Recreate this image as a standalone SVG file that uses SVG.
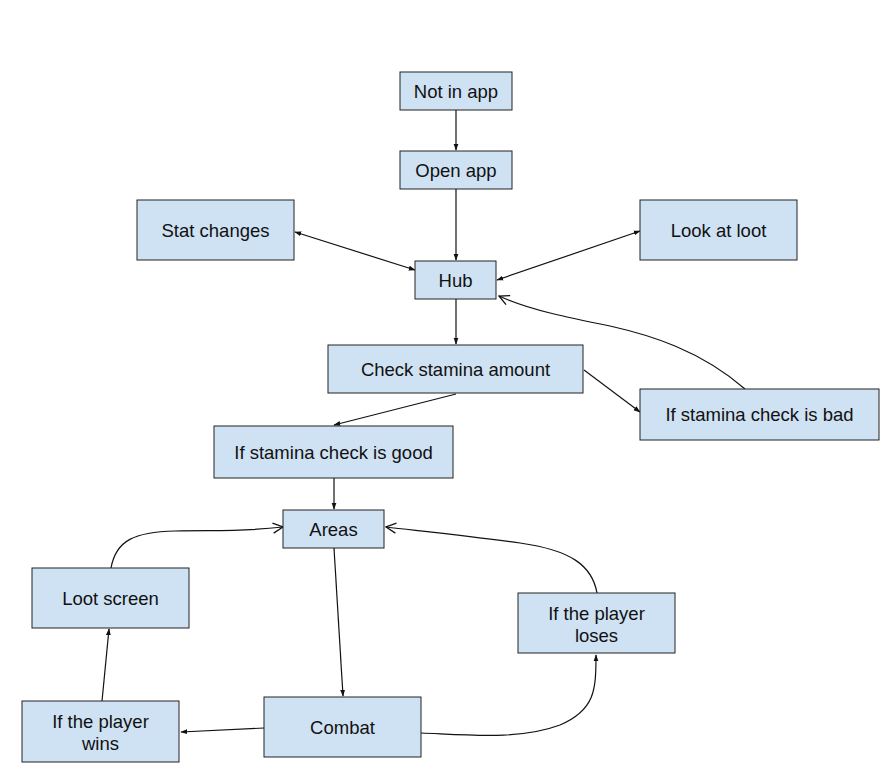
<svg xmlns="http://www.w3.org/2000/svg" width="892" height="780" viewBox="0 0 892 780">
  <defs>
    <style>
      .node rect { fill: #cfe2f3; stroke: #222; stroke-width: 1; }
      .node text { font-family: "Liberation Sans", Arial, sans-serif; font-size: 18.5px; fill: #111; text-anchor: middle; }
      .edge { fill: none; stroke: #111; stroke-width: 1.2; }
    </style>
    <marker id="arrow" viewBox="0 0 10 10" refX="9" refY="5" markerWidth="7" markerHeight="7" orient="auto-start-reverse" markerUnits="userSpaceOnUse">
      <path d="M0,1.5 L10,5 L0,8.5 z" fill="#111"/>
    </marker>
    <marker id="open" viewBox="0 0 12 12" refX="11" refY="6" markerWidth="12" markerHeight="12" orient="auto" markerUnits="userSpaceOnUse">
      <path d="M1,1 L11,6 L1,11" fill="none" stroke="#111" stroke-width="1.3"/>
    </marker>
  </defs>
  <rect width="892" height="780" fill="#fff"/>

  <g id="connectors">
    <line class="edge" x1="456" y1="110" x2="456" y2="150" marker-end="url(#arrow)"/>
    <line class="edge" x1="456" y1="189" x2="456" y2="260" marker-end="url(#arrow)"/>
    <line class="edge" x1="295" y1="232" x2="415" y2="270" marker-start="url(#arrow)" marker-end="url(#arrow)"/>
    <line class="edge" x1="640" y1="231" x2="497" y2="280" marker-start="url(#arrow)" marker-end="url(#arrow)"/>
    <line class="edge" x1="456" y1="299" x2="456" y2="344" marker-end="url(#arrow)"/>
    <line class="edge" x1="456" y1="394" x2="334" y2="425" marker-end="url(#arrow)"/>
    <line class="edge" x1="584" y1="370" x2="640" y2="412" marker-end="url(#arrow)"/>
    <path class="edge" d="M745,389 C700,350 650,335 610,326 C570,318 530,310 499,296" marker-end="url(#open)"/>
    <line class="edge" x1="334" y1="478" x2="334" y2="509" marker-end="url(#arrow)"/>
    <line class="edge" x1="334" y1="548" x2="343" y2="696" marker-end="url(#arrow)"/>
    <line class="edge" x1="264" y1="728" x2="181" y2="732" marker-end="url(#arrow)"/>
    <line class="edge" x1="102" y1="701" x2="109" y2="629" marker-end="url(#arrow)"/>
    <path class="edge" d="M111,568 C116,540 135,532 175,531 C215,530 240,532 283,527" marker-end="url(#open)"/>
    <path class="edge" d="M421,733 C470,735 520,740 560,725 C595,710 596,690 596,655" marker-end="url(#arrow)"/>
    <path class="edge" d="M597,593 C592,565 570,550 520,543 C470,536 430,532 386,527" marker-end="url(#open)"/>
  </g>

  <g id="not-in-app" class="node">
    <rect x="400" y="72" width="112" height="38"/>
    <text x="456" y="98">Not in app</text>
  </g>
  <g id="open-app" class="node">
    <rect x="400" y="151" width="112" height="38"/>
    <text x="456" y="177">Open app</text>
  </g>
  <g id="stat-changes" class="node">
    <rect x="137" y="200" width="157" height="60"/>
    <text x="215.5" y="237">Stat changes</text>
  </g>
  <g id="look-at-loot" class="node">
    <rect x="640" y="200" width="157" height="60"/>
    <text x="718.5" y="237">Look at loot</text>
  </g>
  <g id="hub" class="node">
    <rect x="415" y="261" width="81" height="38"/>
    <text x="455.5" y="287">Hub</text>
  </g>
  <g id="check-stamina" class="node">
    <rect x="328" y="345" width="255" height="48"/>
    <text x="455.5" y="376">Check stamina amount</text>
  </g>
  <g id="stamina-bad" class="node">
    <rect x="640" y="389" width="239" height="51"/>
    <text x="759.5" y="421">If stamina check is bad</text>
  </g>
  <g id="stamina-good" class="node">
    <rect x="214" y="426" width="239" height="52"/>
    <text x="333.5" y="459">If stamina check is good</text>
  </g>
  <g id="areas" class="node">
    <rect x="283" y="510" width="101" height="38"/>
    <text x="333.5" y="536">Areas</text>
  </g>
  <g id="loot-screen" class="node">
    <rect x="32" y="568" width="157" height="60"/>
    <text x="110.5" y="605">Loot screen</text>
  </g>
  <g id="player-loses" class="node">
    <rect x="518" y="593" width="157" height="60"/>
    <text x="596.5" y="620">If the player</text>
    <text x="596.5" y="642">loses</text>
  </g>
  <g id="combat" class="node">
    <rect x="264" y="697" width="157" height="60"/>
    <text x="342.5" y="734">Combat</text>
  </g>
  <g id="player-wins" class="node">
    <rect x="22" y="701" width="157" height="61"/>
    <text x="100.5" y="728">If the player</text>
    <text x="100.5" y="750">wins</text>
  </g>
</svg>
